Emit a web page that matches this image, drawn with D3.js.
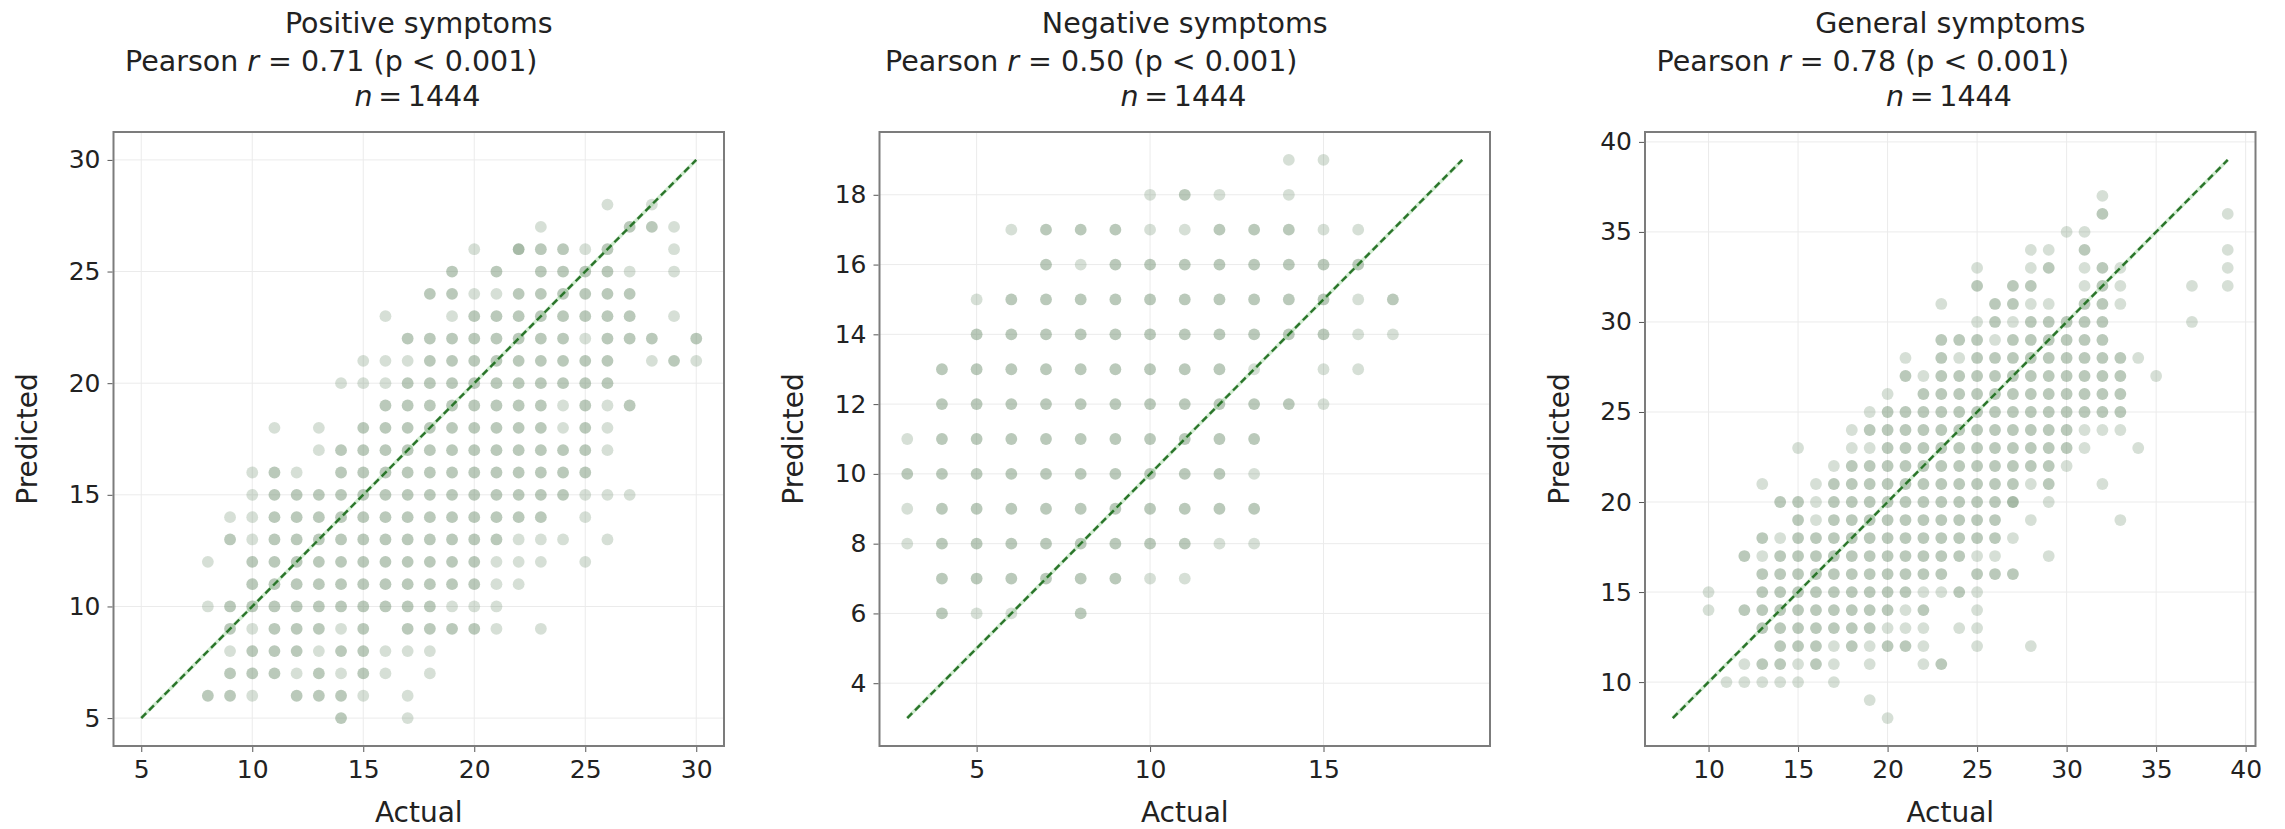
<!DOCTYPE html>
<html>
<head>
<meta charset="utf-8">
<script src="https://cdn.jsdelivr.net/npm/d3@7"></script>
<style>
  body { margin: 0; background: #fff; }
  text { font-family: "DejaVu Sans", sans-serif; fill: #222; }
</style>
</head>
<body>
<svg id="chart" width="2285" height="829"></svg>
<script>

// ---- data ----
const titles = ["Positive symptoms", "Negative symptoms", "General symptoms"];
const pearsonR = ["0.71", "0.50", "0.78"];
const nCases = [1444, 1444, 1444];
const xTicks = [[5, 10, 15, 20, 25, 30], [5, 10, 15], [10, 15, 20, 25, 30, 35, 40]];
const yTicks = [[5, 10, 15, 20, 25, 30], [4, 6, 8, 10, 12, 14, 16, 18], [10, 15, 20, 25, 30, 35, 40]];
const diagRange = [[5, 30], [3, 19], [8, 39]];

// each string is one row of predicted scores (top row first),
// one char per actual score starting at firstActual: '.' none, 1..3 = how many dots overlap
const firstActual = [5, 3, 10];
const topPredicted = [28, 19, 37];

const positiveRows = [
  ".....................1.1..",
  "..................1...221.",
  "...............1.32212..1.",
  "..............2.2.22221.1.",
  ".............2211222222...",
  "...........1..122222222.1.",
  "............222222221222.2",
  "..........111222222222.121",
  ".........1112222222222....",
  "...........222222221212...",
  "......1.1.222222222121....",
  "........12222222222221....",
  ".....121.222222222222.....",
  ".....122222222222222111...",
  "....112222222222222.1.....",
  "....2122222222222111.1....",
  "...1.22222222222111.1.....",
  ".....2222222222211........",
  "...12222222222111.........",
  "....2122212.22221.1.......",
  "....1222122111............",
  "....22212121.1............",
  "...221.2221.1.............",
  ".........2..1............."
];

const negativeRows = [
  "...........11..",
  ".......121.1...",
  "...12221122211.",
  "....2122222222.",
  "..1222222222212",
  "..2222222222211",
  ".2222222221.11.",
  ".222222222221..",
  "12222222222....",
  "22222222221....",
  "12222222222....",
  "12222222211....",
  ".22222211......",
  ".211.2........."
];

const generalRows = [
  "......................1.......",
  "......................2......1",
  "....................11........",
  "..................11.2.......1",
  "...............1..12.121.....1",
  "...............2.22..121...1.1",
  ".............1..2211.221......",
  "...............12122222....1..",
  ".............2221222222.......",
  "...........1.212222222221.....",
  "...........2122222222222.1....",
  "..........1.222222222222......",
  ".........122222222222222......",
  "........1222222222222111......",
  ".....1..11222222222221..1.....",
  ".......12222222222221.........",
  "...1..12222222222212..1.......",
  "....22122222222223.1..........",
  ".....212222222222.1....1......",
  "...212222222222221............",
  "..212222222222211..1..........",
  "...22222222222.222............",
  "1..2222222221121..............",
  "1.22222222212..1..............",
  "...2222222111.11..............",
  "....222121221..1..1...........",
  "..122121.1..12................",
  ".11111.1......................",
  ".........1....................",
  "..........1..................."
];

const gridRows = [positiveRows, negativeRows, generalRows];

// ---- layout ----
const svg = d3.select('#chart');
const frameLeft = [113.5, 879.5, 1645];
const frameTop = 132, frameW = 610.5, frameH = 614;
const dotColor = 'rgb(108,140,108)';
const levelOpacity = {1: 0.28, 2: 0.47, 3: 0.6};
const pearsonDx = [11.5, 5.5, 11.6];

function parseRows(rows, x0, y0) {
  const pts = [];
  rows.forEach((row, i) => {
    row.split('').forEach((ch, j) => {
      if (ch !== '.') pts.push({actual: x0 + j, predicted: y0 - i, n: +ch});
    });
  });
  return pts;
}

titles.forEach((title, i) => {
  const left = frameLeft[i];
  const g = svg.append('g');

  const [d0, d1] = diagRange[i];
  const pad = (d1 - d0) * 0.05;
  const x = d3.scaleLinear().domain([d0 - pad, d1 + pad]).range([left, left + frameW]);
  const y = d3.scaleLinear().domain([d0 - pad, d1 + pad]).range([frameTop + frameH, frameTop]);

  // grid
  g.selectAll('.gx').data(xTicks[i]).enter().append('line')
    .attr('x1', d => x(d)).attr('x2', d => x(d))
    .attr('y1', frameTop).attr('y2', frameTop + frameH)
    .attr('stroke', '#ebebeb').attr('stroke-width', 1);
  g.selectAll('.gy').data(yTicks[i]).enter().append('line')
    .attr('y1', d => y(d)).attr('y2', d => y(d))
    .attr('x1', left).attr('x2', left + frameW)
    .attr('stroke', '#ebebeb').attr('stroke-width', 1);

  // points
  const pts = parseRows(gridRows[i], firstActual[i], topPredicted[i]);
  g.selectAll('circle').data(pts).enter().append('circle')
    .attr('cx', d => x(d.actual))
    .attr('cy', d => y(d.predicted))
    .attr('r', 5.9)
    .attr('fill', dotColor)
    .attr('fill-opacity', d => levelOpacity[d.n]);

  // identity line
  g.append('line')
    .attr('x1', x(d0)).attr('y1', y(d0)).attr('x2', x(d1)).attr('y2', y(d1))
    .attr('stroke', '#8fcf8f').attr('stroke-width', 3.5).attr('stroke-opacity', 0.4);
  g.append('line')
    .attr('x1', x(d0)).attr('y1', y(d0)).attr('x2', x(d1)).attr('y2', y(d1))
    .attr('stroke', '#2a742a').attr('stroke-width', 2.4)
    .attr('stroke-dasharray', '7,4');

  // frame
  g.append('rect')
    .attr('x', left).attr('y', frameTop).attr('width', frameW).attr('height', frameH)
    .attr('fill', 'none').attr('stroke', '#7c7c7c').attr('stroke-width', 2);

  // axes
  const xAxis = g.append('g')
    .attr('transform', `translate(0,${frameTop + frameH + 1})`)
    .call(d3.axisBottom(x).tickValues(xTicks[i]).tickSize(5).tickPadding(8));
  const yAxis = g.append('g')
    .attr('transform', `translate(${left - 1},0)`)
    .call(d3.axisLeft(y).tickValues(yTicks[i]).tickSize(5).tickPadding(7));
  [xAxis, yAxis].forEach(a => {
    a.select('.domain').remove();
    a.selectAll('.tick line').attr('stroke', '#555');
    a.selectAll('.tick text')
      .style('font-family', '"DejaVu Sans", sans-serif')
      .style('font-size', '25px')
      .attr('fill', '#222');
  });

  // axis labels
  g.append('text')
    .attr('x', left + frameW / 2).attr('y', 821.5)
    .attr('text-anchor', 'middle').style('font-size', '28px')
    .text('Actual');
  g.append('text')
    .attr('transform', `translate(${left - 86},${frameTop + frameH / 2}) rotate(-90)`)
    .attr('text-anchor', 'middle').attr('dy', '0.35em').style('font-size', '28px')
    .text('Predicted');

  // title block
  g.append('text')
    .attr('x', left + frameW / 2).attr('y', 32.5)
    .attr('text-anchor', 'middle').style('font-size', '28.5px')
    .text(title);
  const pr = g.append('text')
    .attr('x', left + pearsonDx[i]).attr('y', 71)
    .style('font-size', '28.5px');
  pr.append('tspan').text('Pearson ');
  pr.append('tspan').style('font-style', 'italic').text('r');
  pr.append('tspan').text(` = ${pearsonR[i]} (p < 0.001)`);
  const nt = g.append('text')
    .attr('x', left + 241).attr('y', 106)
    .style('font-size', '28.5px');
  nt.append('tspan').style('font-style', 'italic').text('n');
  nt.append('tspan').text(`\u2009=\u2009${nCases[i]}`);
});

</script>
</body>
</html>
